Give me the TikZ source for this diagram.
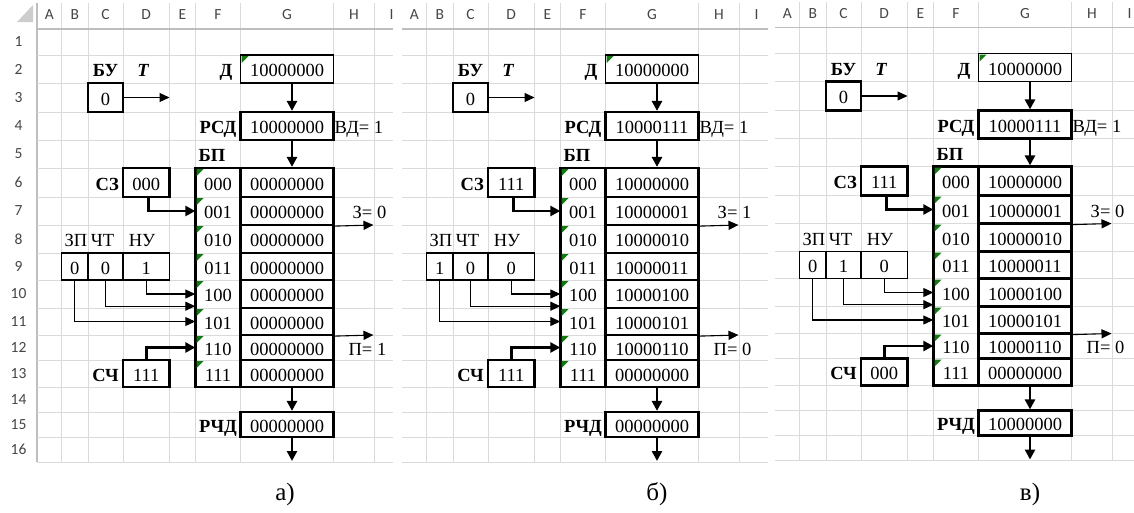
\documentclass[tikz,border=0pt]{standalone}
\usepackage{fontspec}
\setmainfont{Liberation Serif}
\newfontfamily\hdrfont{Carlito}
\usetikzlibrary{arrows.meta}
\definecolor{gridc}{RGB}{218,218,218}
\definecolor{hdrline}{RGB}{190,190,190}
\definecolor{hdrtext}{RGB}{70,70,70}
\definecolor{xlgreen}{RGB}{20,120,20}
\definecolor{selall}{RGB}{205,205,205}
\tikzset{
  cellfont/.style={font=\fontsize{18.5}{20}\selectfont, text height=15.5pt, text depth=0pt},
  boldlbl/.style={cellfont, font=\fontsize{18.5}{20}\selectfont\bfseries, inner sep=0pt},
  thinbox/.style={draw, line width=1.2pt, inner sep=0pt, cellfont},
  thickbox/.style={draw, line width=2.2pt, inner sep=0pt, cellfont},
  plain/.style={inner sep=0pt, cellfont},
  bigarr/.style={line width=2.6pt, -{Triangle[length=10pt,width=10pt]}},
  elbowarr/.style={line width=2.6pt, line join=miter, -{Triangle[length=10pt,width=10pt]}},
  thinarr/.style={line width=1.1pt, -{Triangle[length=10pt,width=9pt]}},
  hdr/.style={font=\fontsize{15.5}{16}\hdrfont, text=hdrtext, inner sep=0pt},
  capt/.style={font=\fontsize{25}{27}\selectfont, inner sep=0pt},
}
\def\xA{0}\def\xB{24.5}\def\xC{51}\def\xD{86}\def\xE{132.5}
\def\xF{158.5}\def\xG{203.5}\def\xH{296.5}\def\xI{337.5}
\newcommand\xcell[7]{\node[#1, minimum width={#4-#3}, minimum height={#6-#5}] (#2) at ({(#3+#4)/2},{(#5+#6)/2}) {#7};}
\newcommand\gtri[2]{\fill[xlgreen] (#1+1,#2+1) -- ++(7,0) -- ++(-7,7) -- cycle;}
\newcommand\xlpanel[2]{%
  % grid
  \foreach \yy in {55,83,112,140,168,197,225,253,280,308,335,360,387,412,437,462}
    \draw[gridc, line width=1pt] (0,\yy) -- (#2,\yy);
  \foreach \xx in {\xB,\xC,\xD,\xE,\xF,\xG,\xH,\xI}
    \draw[gridc, line width=1pt] (\xx,3) -- (\xx,462);
  \draw[hdrline, line width=1.3pt] (0,29) -- (#2,29);
  \foreach \c/\cx in {A/12.25,B/37.75,C/68.5,D/109.25,E/145.5,F/181,G/250,H/317,I/354.5}
    \node[hdr] (#1h\c) at (\cx,15) {\c};
  % control trigger
  \node[boldlbl] (#1bulbl) at (68.5,69) {БУ};
  \node[boldlbl, font=\fontsize{18.5}{20}\selectfont\bfseries\itshape] (#1tlbl) at (106,69) {T};
  \xcell{thickbox}{#1bu}{\xC}{\xD}{83}{112}{0}
  \coordinate (#1tend) at (\xE,97.5);
  \draw[thinarr] (#1bu.east) -- (#1tend);
  % data
  \node[boldlbl, anchor=east] (#1dlbl) at (\xG-8,69) {Д};
  \xcell{thinbox}{#1d}{\xG}{\xH}{55}{83}{10000000}
  \gtri{\xG}{55}
  \node[boldlbl] (#1rsdlbl) at (181,126) {РСД};
  \xcell{thickbox}{#1rsd}{\xG}{\xH}{112}{140}{\vRSD}
  \node[plain, anchor=west] (#1vd) at (\xH+1,126) {ВД= 1};
  \draw[bigarr] ([xshift=5pt]#1d.south) -- ([xshift=5pt]#1rsd.north);
  \node[boldlbl, anchor=west] (#1bp) at (\xF+3,154) {БП};
  % address register
  \node[boldlbl, anchor=east] (#1szlbl) at (\xD-4,182.5) {СЗ};
  \xcell{thickbox}{#1sz}{\xD}{\xE}{168}{197}{\vSZ}
  % memory
  \xcell{thickbox}{#1pf}{\xF}{\xG}{168}{387}{}
  \foreach \yt/\yb/\ad [count=\i from 0] in {168/197/000,197/225/001,225/253/010,253/280/011,280/308/100,308/335/101,335/360/110,360/387/111}{
    \xcell{plain}{#1a\i}{\xF}{\xG}{\yt}{\yb}{\ad}
    \xcell{thickbox}{#1m\i}{\xG}{\xH}{\yt}{\yb}{\memval{\i}}
    \gtri{\xF}{\yt}
  }
  \draw[bigarr] ([xshift=5pt]#1rsd.south) -- ([xshift=5pt]#1m0.north);
  % flags
  \coordinate (#1zend) at (\xI-1,225);
  \draw[thinarr] (#1m1.south east) -- (#1zend);
  \node[plain, anchor=east] (#1z) at (\xI+12,211) {З= \vZ};
  \coordinate (#1pend) at (\xI-1,335);
  \draw[thinarr] (#1m5.south east) -- (#1pend);
  \node[plain, anchor=east] (#1p) at (\xI+12,347.5) {П= \vP};
  % control signals
  \node[plain] (#1zplbl) at (39,239) {ЗП};
  \node[plain] (#1chtlbl) at (65.5,239) {ЧТ};
  \node[plain] (#1nulbl) at (105,239) {НУ};
  \xcell{thinbox}{#1zp}{\xB}{\xC}{253}{280}{\vZP}
  \xcell{thinbox}{#1cht}{\xC}{\xD}{253}{280}{\vCHT}
  \xcell{thinbox}{#1nu}{\xD}{\xE}{253}{280}{\vNU}
  \draw[thinarr] (#1nu.south) |- (#1a4.west);
  \draw[thinarr] (#1cht.south) |- ([yshift=2pt]#1a4.south west);
  \draw[thinarr] (#1zp.south) |- (#1a5.west);
  \draw[elbowarr] ([xshift=2pt]#1sz.south) |- (#1a1.west);
  % counter
  \node[boldlbl, anchor=east] (#1schlbl) at (\xD-4,373.5) {СЧ};
  \xcell{thickbox}{#1sch}{\xD}{\xE}{360}{387}{\vSCH}
  \draw[elbowarr] (#1sch.north) |- (#1a6.west);
  % read register
  \node[boldlbl] (#1rchdlbl) at (181,424.5) {РЧД};
  \xcell{thickbox}{#1rchd}{\xG}{\xH}{412}{437}{\vRCHD}
  \draw[bigarr] ([xshift=5pt]#1m7.south) -- ([xshift=5pt]#1rchd.north);
  \coordinate (#1out) at (255,461);
  \draw[bigarr] ([xshift=5pt]#1rchd.south) -- (#1out);
}
\begin{document}
\begin{tikzpicture}[x=1pt,y=-1pt]
\useasboundingbox (0,0) rectangle (1134,512);
\fill[white] (0,0) rectangle (1134,512);
% ---------- panel a ----------
\def\vRSD{10000000}\def\vSZ{000}\def\memval#1{00000000}
\def\vZ{0}\def\vP{1}\def\vZP{0}\def\vCHT{0}\def\vNU{1}\def\vSCH{111}\def\vRCHD{00000000}
\begin{scope}[shift={(37,0)}]
  \clip (-37,0) rectangle (356,470);
  \fill[selall] (-20,22) -- (-4,22) -- (-4,5) -- cycle;
  \draw[hdrline, line width=1.2pt] (0,3) -- (0,462);
  \foreach \r/\yc in {1/42,2/69,3/97.5,4/126,5/154,6/182.5,7/211,8/239,9/266.5,10/294,11/321.5,12/347.5,13/373.5,14/399.5,15/424.5,16/449.5}
    \node[hdr] (rn\r) at (-18.5,\yc) {\r};
  \xlpanel{a}{356}
\end{scope}
% ---------- panel b ----------
\def\vRSD{10000111}\def\vSZ{111}
\def\memval#1{\ifcase#1\relax 10000000\or 10000001\or 10000010\or 10000011\or 10000100\or 10000101\or 10000110\or 00000000\fi}
\def\vZ{1}\def\vP{0}\def\vZP{1}\def\vCHT{0}\def\vNU{0}\def\vSCH{111}\def\vRCHD{00000000}
\begin{scope}[shift={(402,0)}]
  \clip (0,0) rectangle (366,470);
  \xlpanel{b}{366}
\end{scope}
% ---------- panel c ----------
\def\vZ{0}\def\vP{0}\def\vZP{0}\def\vCHT{1}\def\vNU{0}\def\vSCH{000}\def\vRCHD{10000000}
\begin{scope}[shift={(775,-1.5)}]
  \clip (0,0) rectangle (359,470);
  \xlpanel{c}{359}
\end{scope}
% captions
\node[capt] (capa) at (285,494) {а)};
\node[capt] (capb) at (657,494) {б)};
\node[capt] (capc) at (1030,494) {в)};
\end{tikzpicture}
\end{document}
